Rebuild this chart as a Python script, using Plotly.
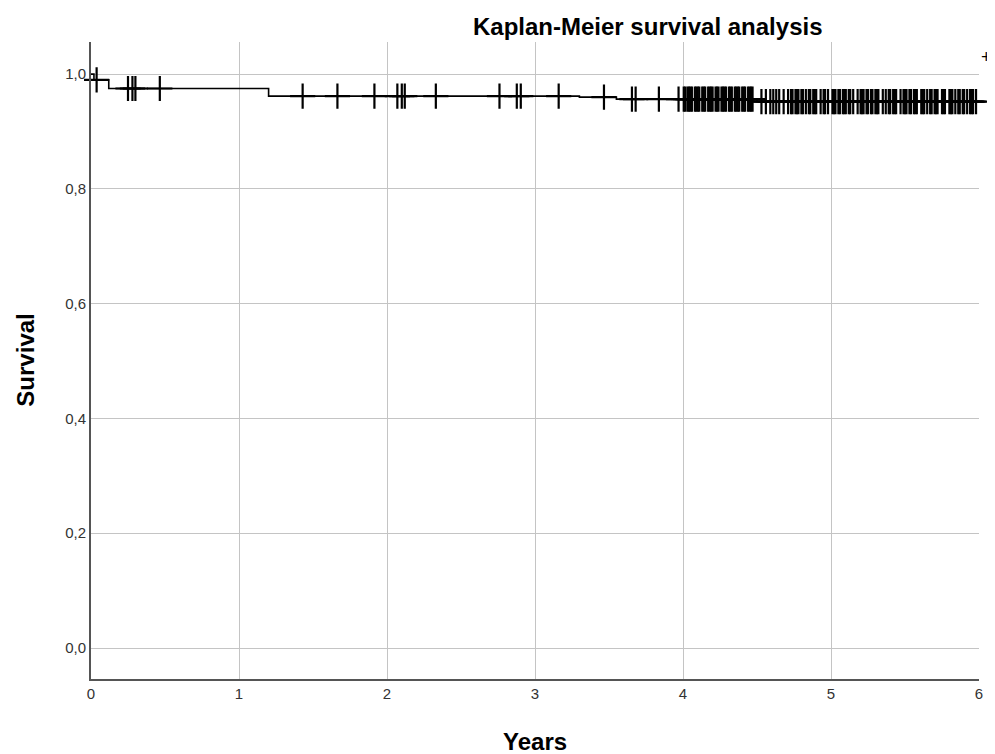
import plotly.graph_objects as go
import bisect

# Kaplan-Meier step function (event times and survival after each event)
event_times = [0.0, 0.02, 0.12, 1.2, 3.3, 3.55, 4.5, 6.0]
survival = [1.0, 0.99, 0.975, 0.9617, 0.960, 0.9565, 0.952, 0.952]

# Censored observation times
censored_times = [
    0.038, 0.25, 0.28, 0.30, 0.465,
    1.43, 1.665, 1.915, 2.07, 2.10, 2.12, 2.33,
    2.76, 2.877, 2.904, 3.16, 3.466, 3.655, 3.68, 3.837, 3.97,
    4.005, 4.015, 4.03, 4.04, 4.05, 4.06, 4.08, 4.09, 4.10, 4.11, 4.13, 4.14,
    4.15, 4.17, 4.18, 4.19, 4.20, 4.22, 4.23, 4.24, 4.26, 4.27, 4.28, 4.29,
    4.31, 4.32, 4.33, 4.35, 4.36, 4.37, 4.38, 4.40, 4.41, 4.42, 4.44, 4.45,
    4.46, 4.47,
    4.53, 4.56, 4.59, 4.61, 4.63, 4.65, 4.68, 4.71, 4.73, 4.74, 4.76, 4.77,
    4.78, 4.80, 4.81, 4.83, 4.85, 4.86, 4.88, 4.89, 4.90, 4.93, 4.95, 4.96,
    4.98, 5.01, 5.02, 5.03, 5.05, 5.06, 5.08, 5.09, 5.10, 5.12, 5.13, 5.15,
    5.18, 5.20, 5.21, 5.22, 5.24, 5.25, 5.27, 5.28, 5.30, 5.31, 5.32, 5.35,
    5.37, 5.39, 5.40, 5.42, 5.43, 5.44, 5.47, 5.49, 5.50, 5.51, 5.53, 5.54,
    5.56, 5.57, 5.58, 5.61, 5.62, 5.63, 5.65, 5.67, 5.68, 5.70, 5.71, 5.72,
    5.75, 5.76, 5.77, 5.80, 5.81, 5.82, 5.84, 5.86, 5.87, 5.89, 5.90, 5.92,
    5.94, 5.95, 5.96, 5.98,
]

x_ticks = [0, 1, 2, 3, 4, 5, 6]
y_ticks = [0.0, 0.2, 0.4, 0.6, 0.8, 1.0]
y_tick_labels = ["0,0", "0,2", "0,4", "0,6", "0,8", "1,0"]


def km_at(t):
    i = bisect.bisect_right(event_times, t) - 1
    return survival[max(i, 0)]


censored_surv = [km_at(t) for t in censored_times]

FONT = "Liberation Sans, Arial, sans-serif"
# page body has an 8px margin; plot area target: x 91..981, y 42..679 (window px)
L, T, R, B = 83, 34, 14, 75
W, H = 987, 746
PW, PH = W - L - R, H - T - B

fig = go.Figure()
fig.add_trace(go.Scatter(
    x=event_times, y=survival, mode="lines", line_shape="hv",
    line=dict(color="black", width=1.6), showlegend=False, hoverinfo="skip",
))
fig.add_trace(go.Scatter(
    x=censored_times, y=censored_surv, mode="markers",
    marker=dict(symbol="cross-thin", size=18, line=dict(color="black", width=2.2)),
    cliponaxis=False, showlegend=False,
))

fig.update_layout(
    width=W, height=H,
    margin=dict(l=L, r=R, t=T, b=B),
    paper_bgcolor="white", plot_bgcolor="white",
    font=dict(family=FONT, color="#333333", size=15),
    xaxis=dict(
        range=[0, 6], tickvals=x_ticks, ticktext=[str(v) for v in x_ticks],
        showgrid=True, gridcolor="#c4c4c4", gridwidth=1.3,
        showline=True, linecolor="#555555", linewidth=2,
        ticks="", zeroline=False, tickfont=dict(size=15, color="#333333"),
    ),
    yaxis=dict(
        range=[-0.054, 1.056], tickvals=y_ticks, ticktext=y_tick_labels,
        showgrid=True, gridcolor="#c4c4c4", gridwidth=1.3,
        showline=True, linecolor="#555555", linewidth=2,
        ticks="", zeroline=False, tickfont=dict(size=15, color="#333333"),
    ),
    annotations=[
        dict(text="<b>Kaplan-Meier survival analysis</b>", xref="paper", yref="paper",
             x=(649 - 91) / PW, y=1 + (42 - 27) / PH, showarrow=False,
             xanchor="center", yanchor="middle", font=dict(size=24, color="black", family=FONT)),
        dict(text="<b>Years</b>", xref="paper", yref="paper",
             x=0.5, y=-(741 - 679) / PH, showarrow=False,
             xanchor="center", yanchor="middle", font=dict(size=24, color="black", family=FONT)),
        dict(text="<b>Survival</b>", xref="paper", yref="paper",
             x=-(91 - 25) / PW, y=0.5, showarrow=False, textangle=-90,
             xanchor="center", yanchor="middle", font=dict(size=24, color="black", family=FONT)),
        dict(text="+", xref="paper", yref="paper",
             x=(995 - 91) / PW, y=1 - (57 - 42) / PH, showarrow=False,
             xanchor="right", yanchor="middle", borderpad=0,
             font=dict(size=18, color="black", family=FONT)),
    ],
)

fig.write_html("out.html")
